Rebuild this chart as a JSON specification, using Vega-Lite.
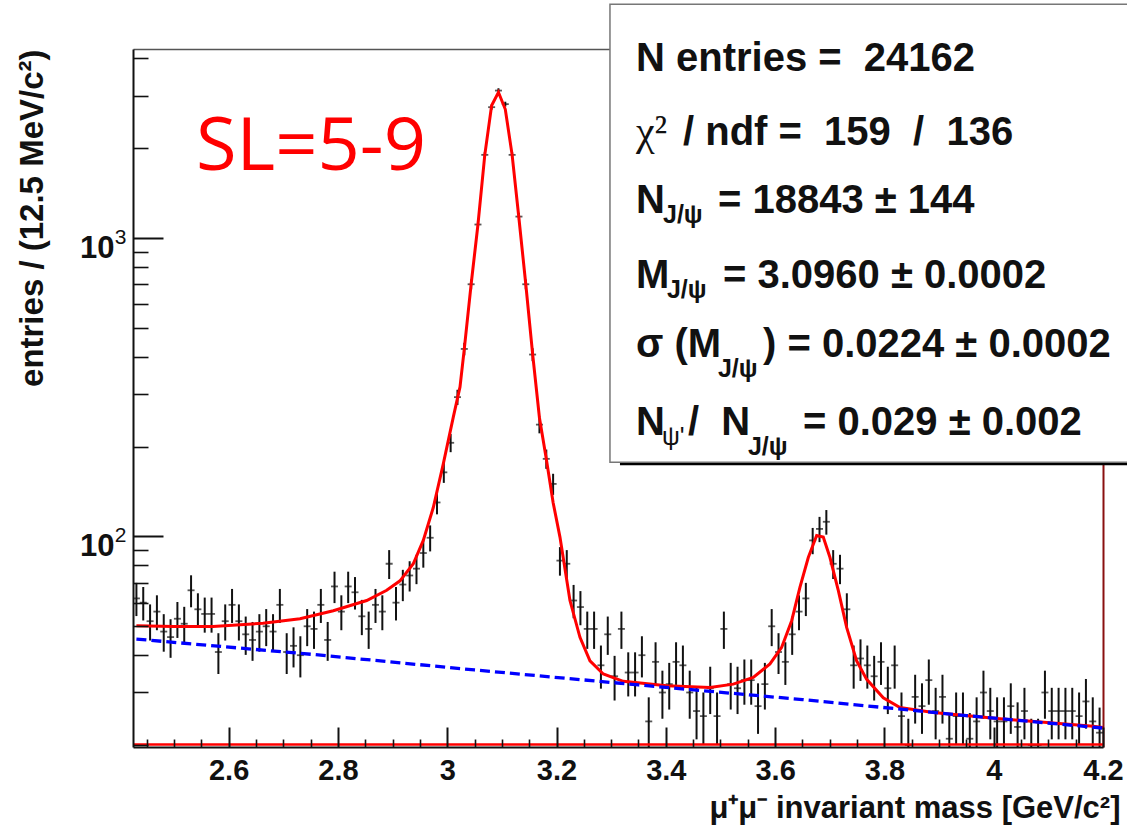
{
  "$schema": "https://vega.github.io/schema/vega-lite/v6.json",
  "autosize": {"type": "none"},
  "width": 970,
  "height": 698,
  "padding": {"left": 133, "top": 49, "right": 24, "bottom": 78},
  "background": "white",
  "config": {"view": {"stroke": null}},
  "data": {"values": [{}]},
  "datasets": {
    "bins": [
      {"m":2.43125,"n":62,"lo":54.1,"hi":69.9},{"m":2.44375,"n":60,"lo":52.3,"hi":67.7},{"m":2.45625,"n":52,"lo":44.8,"hi":59.2},{"m":2.46875,"n":56,"lo":48.5,"hi":63.5},
      {"m":2.48125,"n":48,"lo":41.1,"hi":54.9},{"m":2.49375,"n":46,"lo":39.2,"hi":52.8},{"m":2.50625,"n":53,"lo":45.7,"hi":60.3},{"m":2.51875,"n":51,"lo":43.9,"hi":58.1},
      {"m":2.53125,"n":66,"lo":57.9,"hi":74.1},{"m":2.54375,"n":57,"lo":49.5,"hi":64.5},{"m":2.55625,"n":55,"lo":47.6,"hi":62.4},{"m":2.56875,"n":55,"lo":47.6,"hi":62.4},
      {"m":2.58125,"n":41,"lo":34.6,"hi":47.4},{"m":2.59375,"n":52,"lo":44.8,"hi":59.2},{"m":2.60625,"n":59,"lo":51.3,"hi":66.7},{"m":2.61875,"n":52,"lo":44.8,"hi":59.2},
      {"m":2.63125,"n":47,"lo":40.1,"hi":53.9},{"m":2.64375,"n":45,"lo":38.3,"hi":51.7},{"m":2.65625,"n":48,"lo":41.1,"hi":54.9},{"m":2.66875,"n":50,"lo":42.9,"hi":57.1},
      {"m":2.68125,"n":48,"lo":41.1,"hi":54.9},{"m":2.69375,"n":59,"lo":51.3,"hi":66.7},{"m":2.70625,"n":41,"lo":34.6,"hi":47.4},{"m":2.71875,"n":43,"lo":36.4,"hi":49.6},
      {"m":2.73125,"n":40,"lo":33.7,"hi":46.3},{"m":2.74375,"n":50,"lo":42.9,"hi":57.1},{"m":2.75625,"n":49,"lo":42,"hi":56},{"m":2.76875,"n":59,"lo":51.3,"hi":66.7},
      {"m":2.78125,"n":45,"lo":38.3,"hi":51.7},{"m":2.79375,"n":68,"lo":59.8,"hi":76.2},{"m":2.80625,"n":56,"lo":48.5,"hi":63.5},{"m":2.81875,"n":68,"lo":59.8,"hi":76.2},
      {"m":2.83125,"n":65,"lo":56.9,"hi":73.1},{"m":2.84375,"n":54,"lo":46.7,"hi":61.3},{"m":2.85625,"n":49,"lo":42,"hi":56},{"m":2.86875,"n":59,"lo":51.3,"hi":66.7},
      {"m":2.88125,"n":56,"lo":48.5,"hi":63.5},{"m":2.89375,"n":81,"lo":72,"hi":90},{"m":2.90625,"n":60,"lo":52.3,"hi":67.7},{"m":2.91875,"n":69,"lo":60.7,"hi":77.3},
      {"m":2.93125,"n":74,"lo":65.4,"hi":82.6},{"m":2.94375,"n":78,"lo":69.2,"hi":86.8},{"m":2.95625,"n":88,"lo":78.6,"hi":97.4},{"m":2.96875,"n":99,"lo":89.1,"hi":108.9},
      {"m":2.98125,"n":130,"lo":118.6,"hi":141.4},{"m":2.99375,"n":164,"lo":151.2,"hi":176.8},{"m":3.00625,"n":206,"lo":191.6,"hi":220.4},{"m":3.01875,"n":293,"lo":275.9,"hi":310.1},
      {"m":3.03125,"n":425,"lo":404.4,"hi":445.6},{"m":3.04375,"n":700,"lo":673.5,"hi":726.5},{"m":3.05625,"n":1110,"lo":1076.7,"hi":1143.3},{"m":3.06875,"n":1900,"lo":1856.4,"hi":1943.6},
      {"m":3.08125,"n":2745,"lo":2692.6,"hi":2797.4},{"m":3.09375,"n":3120,"lo":3064.1,"hi":3175.9},{"m":3.10625,"n":2810,"lo":2757,"hi":2863},{"m":3.11875,"n":1900,"lo":1856.4,"hi":1943.6},
      {"m":3.13125,"n":1180,"lo":1145.6,"hi":1214.4},{"m":3.14375,"n":700,"lo":673.5,"hi":726.5},{"m":3.15625,"n":407,"lo":386.8,"hi":427.2},{"m":3.16875,"n":237,"lo":221.6,"hi":252.4},
      {"m":3.18125,"n":182,"lo":168.5,"hi":195.5},{"m":3.19375,"n":150,"lo":137.8,"hi":162.2},{"m":3.20625,"n":83,"lo":73.9,"hi":92.1},{"m":3.21875,"n":81,"lo":72,"hi":90},
      {"m":3.23125,"n":61,"lo":53.2,"hi":68.8},{"m":3.24375,"n":58,"lo":50.4,"hi":65.6},{"m":3.25625,"n":49,"lo":42,"hi":56},{"m":3.26875,"n":49,"lo":42,"hi":56},
      {"m":3.28125,"n":37,"lo":30.9,"hi":43.1},{"m":3.29375,"n":47,"lo":40.1,"hi":53.9},{"m":3.30625,"n":34,"lo":28.2,"hi":39.8},{"m":3.31875,"n":49,"lo":42,"hi":56},
      {"m":3.33125,"n":35,"lo":29.1,"hi":40.9},{"m":3.34375,"n":35,"lo":29.1,"hi":40.9},{"m":3.35625,"n":40,"lo":33.7,"hi":46.3},{"m":3.36875,"n":24,"lo":19.1,"hi":28.9},
      {"m":3.38125,"n":38,"lo":31.8,"hi":44.2},{"m":3.39375,"n":30,"lo":24.5,"hi":35.5},{"m":3.40625,"n":32,"lo":26.3,"hi":37.7},{"m":3.41875,"n":38,"lo":31.8,"hi":44.2},
      {"m":3.43125,"n":37,"lo":30.9,"hi":43.1},{"m":3.44375,"n":30,"lo":24.5,"hi":35.5},{"m":3.45625,"n":26,"lo":20.9,"hi":31.1},{"m":3.46875,"n":25,"lo":20,"hi":30},
      {"m":3.48125,"n":31,"lo":25.4,"hi":36.6},{"m":3.49375,"n":25,"lo":20,"hi":30},{"m":3.50625,"n":49,"lo":42,"hi":56},{"m":3.51875,"n":32,"lo":26.3,"hi":37.7},
      {"m":3.53125,"n":31,"lo":25.4,"hi":36.6},{"m":3.54375,"n":33,"lo":27.3,"hi":38.7},{"m":3.55625,"n":33,"lo":27.3,"hi":38.7},{"m":3.56875,"n":27,"lo":21.8,"hi":32.2},
      {"m":3.58125,"n":32,"lo":26.3,"hi":37.7},{"m":3.59375,"n":50,"lo":42.9,"hi":57.1},{"m":3.60625,"n":41,"lo":34.6,"hi":47.4},{"m":3.61875,"n":38,"lo":31.8,"hi":44.2},
      {"m":3.63125,"n":47,"lo":40.1,"hi":53.9},{"m":3.64375,"n":56,"lo":48.5,"hi":63.5},{"m":3.65625,"n":62,"lo":54.1,"hi":69.9},{"m":3.66875,"n":97,"lo":87.2,"hi":106.8},
      {"m":3.68125,"n":106,"lo":95.7,"hi":116.3},{"m":3.69375,"n":112,"lo":101.4,"hi":122.6},{"m":3.70625,"n":81,"lo":72,"hi":90},{"m":3.71875,"n":78,"lo":69.2,"hi":86.8},
      {"m":3.73125,"n":57,"lo":49.5,"hi":64.5},{"m":3.74375,"n":37,"lo":30.9,"hi":43.1},{"m":3.75625,"n":39,"lo":32.8,"hi":45.2},{"m":3.76875,"n":37,"lo":30.9,"hi":43.1},
      {"m":3.78125,"n":34,"lo":28.2,"hi":39.8},{"m":3.79375,"n":38,"lo":31.8,"hi":44.2},{"m":3.80625,"n":31,"lo":25.4,"hi":36.6},{"m":3.81875,"n":37,"lo":30.9,"hi":43.1},
      {"m":3.83125,"n":25,"lo":20,"hi":30},{"m":3.84375,"n":20,"lo":15.5,"hi":24.5},{"m":3.85625,"n":29,"lo":23.6,"hi":34.4},{"m":3.86875,"n":27,"lo":21.8,"hi":32.2},
      {"m":3.88125,"n":33,"lo":27.3,"hi":38.7},{"m":3.89375,"n":26,"lo":20.9,"hi":31.1},{"m":3.90625,"n":29,"lo":23.6,"hi":34.4},{"m":3.91875,"n":21,"lo":16.4,"hi":25.6},
      {"m":3.93125,"n":25,"lo":20,"hi":30},{"m":3.94375,"n":25,"lo":20,"hi":30},{"m":3.95625,"n":21,"lo":16.4,"hi":25.6},{"m":3.96875,"n":24,"lo":19.1,"hi":28.9},
      {"m":3.98125,"n":30,"lo":24.5,"hi":35.5},{"m":3.99375,"n":26,"lo":20.9,"hi":31.1},{"m":4.00625,"n":24,"lo":19.1,"hi":28.9},{"m":4.01875,"n":24,"lo":19.1,"hi":28.9},
      {"m":4.03125,"n":27,"lo":21.8,"hi":32.2},{"m":4.04375,"n":23,"lo":18.2,"hi":27.8},{"m":4.05625,"n":26,"lo":20.9,"hi":31.1},{"m":4.06875,"n":20,"lo":15.5,"hi":24.5},
      {"m":4.08125,"n":20,"lo":15.5,"hi":24.5},{"m":4.09375,"n":30,"lo":24.5,"hi":35.5},{"m":4.10625,"n":26,"lo":20.9,"hi":31.1},{"m":4.11875,"n":26,"lo":20.9,"hi":31.1},
      {"m":4.13125,"n":26,"lo":20.9,"hi":31.1},{"m":4.14375,"n":26,"lo":20.9,"hi":31.1},{"m":4.15625,"n":25,"lo":20,"hi":30},{"m":4.16875,"n":28,"lo":22.7,"hi":33.3},
      {"m":4.18125,"n":24,"lo":19.1,"hi":28.9},{"m":4.19375,"n":22,"lo":17.3,"hi":26.7}
    ],
    "fit": [
      {"m":2.43125,"f":50.2},{"m":2.5,"f":49.9},{"m":2.5714,"f":49.9},{"m":2.6629,"f":51.2},{"m":2.7306,"f":53},{"m":2.7915,"f":56.4},
      {"m":2.8526,"f":61},{"m":2.8892,"f":66},{"m":2.9136,"f":71},{"m":2.9379,"f":81},{"m":2.9562,"f":97},{"m":2.9745,"f":125},
      {"m":2.9928,"f":175},{"m":3.0111,"f":251},{"m":3.0234,"f":317},{"m":3.03125,"f":425},{"m":3.04375,"f":700},{"m":3.05625,"f":1110},
      {"m":3.06875,"f":1900},{"m":3.08125,"f":2780},{"m":3.09375,"f":3080},{"m":3.10625,"f":2700},{"m":3.11875,"f":1900},{"m":3.13125,"f":1163},
      {"m":3.14375,"f":700},{"m":3.15625,"f":409},{"m":3.16875,"f":250},{"m":3.18125,"f":182},{"m":3.19375,"f":130},{"m":3.2063,"f":99.5},
      {"m":3.2246,"f":61},{"m":3.2429,"f":45.9},{"m":3.2612,"f":38.3},{"m":3.2856,"f":34.6},{"m":3.3222,"f":32.7},{"m":3.4016,"f":31.6},
      {"m":3.4808,"f":31.2},{"m":3.5234,"f":32},{"m":3.56,"f":33.7},{"m":3.5906,"f":37.4},{"m":3.612,"f":42.5},{"m":3.6303,"f":52.2},
      {"m":3.6455,"f":67.6},{"m":3.6607,"f":85},{"m":3.676,"f":100.8},{"m":3.6881,"f":99.5},{"m":3.7004,"f":85},{"m":3.7156,"f":66},
      {"m":3.7309,"f":49.6},{"m":3.7492,"f":38.3},{"m":3.7675,"f":33.2},{"m":3.7979,"f":28.8},{"m":3.8285,"f":26.7},{"m":3.8894,"f":25.7},
      {"m":4.0115,"f":24.5},{"m":4.1822,"f":23.1},{"m":4.2,"f":22.9}
    ],
    "bkg": [
      {"m":2.43125,"b":45.3},{"m":2.75,"b":40.3},{"m":3.05,"b":35.7},{"m":3.35,"b":31.8},{"m":3.65,"b":28.4},{"m":3.95,"b":25.1},{"m":4.2,"b":22.8}
    ]
  },
  "resolve": {"axis": {"x": "independent", "y": "independent"}},
  "layer": [
    {
      "data": {"name": "bins"},
      "mark": {"type": "rule", "clip": true, "color": "#111", "strokeWidth": 2},
      "encoding": {
        "x": {"field": "m", "type": "quantitative",
          "scale": {"type": "linear", "domain": [2.425, 4.2], "nice": false, "zero": false},
          "axis": {"orient": "bottom", "values": [2.6, 2.8, 3, 3.2, 3.4, 3.6, 3.8, 4, 4.2], "format": "~g",
            "grid": false, "zindex": 1, "domainColor": "#111", "domainWidth": 2,
            "tickSize": -20, "tickWidth": 2, "tickColor": "#111",
            "labelPadding": 29, "labelFont": "Liberation Sans", "labelFontWeight": "bold", "labelFontSize": 29, "labelColor": "#111",
            "labelFlush": false, "labelOverlap": false, "labelBound": false,
            "title": "μ⁺μ⁻ invariant mass [GeV/c²]", "titleFont": "Liberation Sans", "titleFontWeight": "bold", "titleFontSize": 31,
            "titleColor": "#111", "titleAlign": "right", "titleAnchor": "end", "titleX": 987, "titleY": 70, "titleBaseline": "alphabetic"}},
        "y": {"field": "lo", "type": "quantitative",
          "scale": {"type": "log", "domain": [19.7, 4300], "nice": false},
          "axis": {"orient": "left", "values": [100, 1000],
            "labelExpr": "datum.value == 100 || datum.value == 1000 ? '10' : ''",
            "grid": false, "zindex": 1, "domainColor": "#111", "domainWidth": 2,
            "tickSize": -30, "tickWidth": 2, "tickColor": "#111",
            "labelPadding": 49, "labelFont": "Liberation Sans", "labelFontWeight": "bold", "labelFontSize": 31, "labelColor": "#111",
            "labelBaseline": "middle", "labelOffset": 10, "labelFlush": false, "labelOverlap": false, "labelBound": false,
            "title": "entries / (12.5 MeV/c²)", "titleFont": "Liberation Sans", "titleFontWeight": "bold", "titleFontSize": 33,
            "titleColor": "#111", "titleAngle": 270, "titleAlign": "right", "titleAnchor": "end", "titleX": -91, "titleY": 0, "titleBaseline": "alphabetic"}},
        "y2": {"field": "hi"}
      }
    },
    {
      "data": {"name": "bins"},
      "mark": {"type": "tick", "orient": "horizontal", "clip": true, "color": "#111", "size": 7, "thickness": 1.8},
      "encoding": {
        "x": {"field": "m", "type": "quantitative",
          "scale": {"type": "linear", "domain": [2.425, 4.2], "nice": false, "zero": false},
          "axis": {"orient": "bottom", "values": [2.45, 2.5, 2.55, 2.65, 2.7, 2.75, 2.85, 2.9, 2.95, 3.05, 3.1, 3.15, 3.25, 3.3, 3.35, 3.45, 3.5, 3.55, 3.65, 3.7, 3.75, 3.85, 3.9, 3.95, 4.05, 4.1, 4.15],
            "labels": false, "domain": false, "grid": false, "title": null, "zindex": 1,
            "tickSize": -8, "tickWidth": 1.6, "tickColor": "#111"}},
        "y": {"field": "n", "type": "quantitative",
          "scale": {"type": "log", "domain": [19.7, 4300], "nice": false},
          "axis": {"orient": "left", "values": [20, 30, 40, 50, 60, 70, 80, 90, 200, 300, 400, 500, 600, 700, 800, 900, 2000, 3000, 4000],
            "labels": false, "domain": false, "grid": false, "title": null, "zindex": 1,
            "tickSize": -15, "tickWidth": 1.6, "tickColor": "#111"}}
      }
    },
    {
      "data": {"name": "fit"},
      "mark": {"type": "line", "color": "#ff0000", "strokeWidth": 3, "clip": true},
      "encoding": {
        "x": {"field": "m", "type": "quantitative",
          "scale": {"type": "linear", "domain": [2.425, 4.2], "nice": false, "zero": false},
          "axis": {"orient": "top", "labels": false, "ticks": false, "grid": false, "title": null, "domainColor": "#555", "domainWidth": 1.5}},
        "y": {"field": "f", "type": "quantitative",
          "scale": {"type": "log", "domain": [19.7, 4300], "nice": false},
          "axis": {"orient": "right", "labels": false, "ticks": false, "grid": false, "title": null, "domainColor": "#8a1010", "domainWidth": 2}}
      }
    },
    {
      "data": {"name": "bkg"},
      "mark": {"type": "line", "color": "#0000ff", "strokeWidth": 3.3, "strokeDash": [10, 5], "clip": true},
      "encoding": {
        "x": {"field": "m", "type": "quantitative", "scale": {"type": "linear", "domain": [2.425, 4.2], "nice": false, "zero": false}, "axis": null},
        "y": {"field": "b", "type": "quantitative", "scale": {"type": "log", "domain": [19.7, 4300], "nice": false},
          "axis": {"orient": "left", "values": [100, 1000],
            "labelExpr": "datum.value == 100 ? '2' : datum.value == 1000 ? '3' : ''",
            "ticks": false, "tickSize": 0, "domain": false, "grid": false, "title": null, "zindex": 1,
            "labelPadding": 7, "labelFont": "Liberation Sans", "labelFontSize": 21, "labelColor": "#111",
            "labelBaseline": "middle", "labelOffset": -1, "labelFlush": false, "labelOverlap": false, "labelBound": false}}
      }
    },
    {
      "mark": {"type": "rule", "color": "#ff0000", "strokeWidth": 2.5},
      "encoding": {
        "y": {"datum": 20.1, "type": "quantitative", "scale": {"type": "log", "domain": [19.7, 4300], "nice": false}, "axis": null}
      }
    },
    {
      "mark": {"type": "text", "text": "SL=5-9", "font": "Open Sans", "fontSize": 74, "color": "#ff0000", "align": "left", "baseline": "alphabetic"},
      "encoding": {
        "x": {"datum": 2.5403, "type": "quantitative", "scale": {"type": "linear", "domain": [2.425, 4.2], "nice": false, "zero": false}, "axis": null},
        "y": {"datum": 1696, "type": "quantitative", "scale": {"type": "log", "domain": [19.7, 4300], "nice": false}, "axis": null}
      }
    },
    {
      "mark": {"type": "rect", "color": "#000000"},
      "encoding": {
        "x": {"datum": 3.3161, "type": "quantitative", "scale": {"type": "linear", "domain": [2.425, 4.2], "nice": false, "zero": false}, "axis": null},
        "x2": {"datum": 4.3},
        "y": {"datum": 173.2, "type": "quantitative", "scale": {"type": "log", "domain": [19.7, 4300], "nice": false}, "axis": null},
        "y2": {"datum": 5846}
      }
    },
    {
      "mark": {"type": "rect", "fill": "#ffffff", "stroke": "#777777", "strokeWidth": 1.5},
      "encoding": {
        "x": {"datum": 3.2978, "type": "quantitative", "scale": {"type": "linear", "domain": [2.425, 4.2], "nice": false, "zero": false}, "axis": null},
        "x2": {"datum": 4.3},
        "y": {"datum": 177.3, "type": "quantitative", "scale": {"type": "log", "domain": [19.7, 4300], "nice": false}, "axis": null},
        "y2": {"datum": 6078}
      }
    },
    {
      "mark": {"type": "text", "text": "N entries =\u00a0\u00a024162", "font": "Liberation Sans", "fontWeight": "bold", "fontSize": 40, "color": "#111", "align": "left", "baseline": "alphabetic"},
      "encoding": {
        "x": {"datum": 3.3454, "type": "quantitative", "scale": {"type": "linear", "domain": [2.425, 4.2], "nice": false, "zero": false}, "axis": null},
        "y": {"datum": 3627, "type": "quantitative", "scale": {"type": "log", "domain": [19.7, 4300], "nice": false}, "axis": null}
      }
    },
    {
      "mark": {"type": "text", "text": "χ²", "font": "Liberation Serif", "fontSize": 42, "color": "#111", "align": "left", "baseline": "alphabetic"},
      "encoding": {
        "x": {"datum": 3.3454, "type": "quantitative", "scale": {"type": "linear", "domain": [2.425, 4.2], "nice": false, "zero": false}, "axis": null},
        "y": {"datum": 2058, "type": "quantitative", "scale": {"type": "log", "domain": [19.7, 4300], "nice": false}, "axis": null}
      }
    },
    {
      "mark": {"type": "text", "text": "/ ndf =\u00a0\u00a0159\u00a0\u00a0/\u00a0\u00a0136", "font": "Liberation Sans", "fontWeight": "bold", "fontSize": 40, "color": "#111", "align": "left", "baseline": "alphabetic"},
      "encoding": {
        "x": {"datum": 3.4314, "type": "quantitative", "scale": {"type": "linear", "domain": [2.425, 4.2], "nice": false, "zero": false}, "axis": null},
        "y": {"datum": 2058, "type": "quantitative", "scale": {"type": "log", "domain": [19.7, 4300], "nice": false}, "axis": null}
      }
    },
    {
      "mark": {"type": "text", "text": "N", "font": "Liberation Sans", "fontWeight": "bold", "fontSize": 40, "color": "#111", "align": "left", "baseline": "alphabetic"},
      "encoding": {
        "x": {"datum": 3.3454, "type": "quantitative", "scale": {"type": "linear", "domain": [2.425, 4.2], "nice": false, "zero": false}, "axis": null},
        "y": {"datum": 1216, "type": "quantitative", "scale": {"type": "log", "domain": [19.7, 4300], "nice": false}, "axis": null}
      }
    },
    {
      "mark": {"type": "text", "text": "J/ψ", "font": "Liberation Sans", "fontWeight": "bold", "fontSize": 25, "color": "#111", "align": "left", "baseline": "alphabetic"},
      "encoding": {
        "x": {"datum": 3.3948, "type": "quantitative", "scale": {"type": "linear", "domain": [2.425, 4.2], "nice": false, "zero": false}, "axis": null},
        "y": {"datum": 1123, "type": "quantitative", "scale": {"type": "log", "domain": [19.7, 4300], "nice": false}, "axis": null}
      }
    },
    {
      "mark": {"type": "text", "text": "= 18843 ± 144", "font": "Liberation Sans", "fontWeight": "bold", "fontSize": 40, "color": "#111", "align": "left", "baseline": "alphabetic"},
      "encoding": {
        "x": {"datum": 3.4954, "type": "quantitative", "scale": {"type": "linear", "domain": [2.425, 4.2], "nice": false, "zero": false}, "axis": null},
        "y": {"datum": 1216, "type": "quantitative", "scale": {"type": "log", "domain": [19.7, 4300], "nice": false}, "axis": null}
      }
    },
    {
      "mark": {"type": "text", "text": "M", "font": "Liberation Sans", "fontWeight": "bold", "fontSize": 40, "color": "#111", "align": "left", "baseline": "alphabetic"},
      "encoding": {
        "x": {"datum": 3.3454, "type": "quantitative", "scale": {"type": "linear", "domain": [2.425, 4.2], "nice": false, "zero": false}, "axis": null},
        "y": {"datum": 681, "type": "quantitative", "scale": {"type": "log", "domain": [19.7, 4300], "nice": false}, "axis": null}
      }
    },
    {
      "mark": {"type": "text", "text": "J/ψ", "font": "Liberation Sans", "fontWeight": "bold", "fontSize": 25, "color": "#111", "align": "left", "baseline": "alphabetic"},
      "encoding": {
        "x": {"datum": 3.4021, "type": "quantitative", "scale": {"type": "linear", "domain": [2.425, 4.2], "nice": false, "zero": false}, "axis": null},
        "y": {"datum": 630, "type": "quantitative", "scale": {"type": "log", "domain": [19.7, 4300], "nice": false}, "axis": null}
      }
    },
    {
      "mark": {"type": "text", "text": "= 3.0960 ± 0.0002", "font": "Liberation Sans", "fontWeight": "bold", "fontSize": 40, "color": "#111", "align": "left", "baseline": "alphabetic"},
      "encoding": {
        "x": {"datum": 3.5046, "type": "quantitative", "scale": {"type": "linear", "domain": [2.425, 4.2], "nice": false, "zero": false}, "axis": null},
        "y": {"datum": 681, "type": "quantitative", "scale": {"type": "log", "domain": [19.7, 4300], "nice": false}, "axis": null}
      }
    },
    {
      "mark": {"type": "text", "text": "σ (M", "font": "Liberation Sans", "fontWeight": "bold", "fontSize": 40, "color": "#111", "align": "left", "baseline": "alphabetic"},
      "encoding": {
        "x": {"datum": 3.3454, "type": "quantitative", "scale": {"type": "linear", "domain": [2.425, 4.2], "nice": false, "zero": false}, "axis": null},
        "y": {"datum": 399, "type": "quantitative", "scale": {"type": "log", "domain": [19.7, 4300], "nice": false}, "axis": null}
      }
    },
    {
      "mark": {"type": "text", "text": "J/ψ", "font": "Liberation Sans", "fontWeight": "bold", "fontSize": 25, "color": "#111", "align": "left", "baseline": "alphabetic"},
      "encoding": {
        "x": {"datum": 3.4954, "type": "quantitative", "scale": {"type": "linear", "domain": [2.425, 4.2], "nice": false, "zero": false}, "axis": null},
        "y": {"datum": 342, "type": "quantitative", "scale": {"type": "log", "domain": [19.7, 4300], "nice": false}, "axis": null}
      }
    },
    {
      "mark": {"type": "text", "text": ") = 0.0224 ± 0.0002", "font": "Liberation Sans", "fontWeight": "bold", "fontSize": 40, "color": "#111", "align": "left", "baseline": "alphabetic"},
      "encoding": {
        "x": {"datum": 3.5778, "type": "quantitative", "scale": {"type": "linear", "domain": [2.425, 4.2], "nice": false, "zero": false}, "axis": null},
        "y": {"datum": 399, "type": "quantitative", "scale": {"type": "log", "domain": [19.7, 4300], "nice": false}, "axis": null}
      }
    },
    {
      "mark": {"type": "text", "text": "N", "font": "Liberation Sans", "fontWeight": "bold", "fontSize": 40, "color": "#111", "align": "left", "baseline": "alphabetic"},
      "encoding": {
        "x": {"datum": 3.3454, "type": "quantitative", "scale": {"type": "linear", "domain": [2.425, 4.2], "nice": false, "zero": false}, "axis": null},
        "y": {"datum": 218, "type": "quantitative", "scale": {"type": "log", "domain": [19.7, 4300], "nice": false}, "axis": null}
      }
    },
    {
      "mark": {"type": "text", "text": "ψ'", "font": "Liberation Sans", "fontSize": 25, "color": "#111", "align": "left", "baseline": "alphabetic"},
      "encoding": {
        "x": {"datum": 3.393, "type": "quantitative", "scale": {"type": "linear", "domain": [2.425, 4.2], "nice": false, "zero": false}, "axis": null},
        "y": {"datum": 202, "type": "quantitative", "scale": {"type": "log", "domain": [19.7, 4300], "nice": false}, "axis": null}
      }
    },
    {
      "mark": {"type": "text", "text": "/\u00a0\u00a0N", "font": "Liberation Sans", "fontWeight": "bold", "fontSize": 40, "color": "#111", "align": "left", "baseline": "alphabetic"},
      "encoding": {
        "x": {"datum": 3.4406, "type": "quantitative", "scale": {"type": "linear", "domain": [2.425, 4.2], "nice": false, "zero": false}, "axis": null},
        "y": {"datum": 218, "type": "quantitative", "scale": {"type": "log", "domain": [19.7, 4300], "nice": false}, "axis": null}
      }
    },
    {
      "mark": {"type": "text", "text": "J/ψ", "font": "Liberation Sans", "fontWeight": "bold", "fontSize": 25, "color": "#111", "align": "left", "baseline": "alphabetic"},
      "encoding": {
        "x": {"datum": 3.5503, "type": "quantitative", "scale": {"type": "linear", "domain": [2.425, 4.2], "nice": false, "zero": false}, "axis": null},
        "y": {"datum": 187, "type": "quantitative", "scale": {"type": "log", "domain": [19.7, 4300], "nice": false}, "axis": null}
      }
    },
    {
      "mark": {"type": "text", "text": "= 0.029 ± 0.002", "font": "Liberation Sans", "fontWeight": "bold", "fontSize": 40, "color": "#111", "align": "left", "baseline": "alphabetic"},
      "encoding": {
        "x": {"datum": 3.651, "type": "quantitative", "scale": {"type": "linear", "domain": [2.425, 4.2], "nice": false, "zero": false}, "axis": null},
        "y": {"datum": 218, "type": "quantitative", "scale": {"type": "log", "domain": [19.7, 4300], "nice": false}, "axis": null}
      }
    }
  ]
}
